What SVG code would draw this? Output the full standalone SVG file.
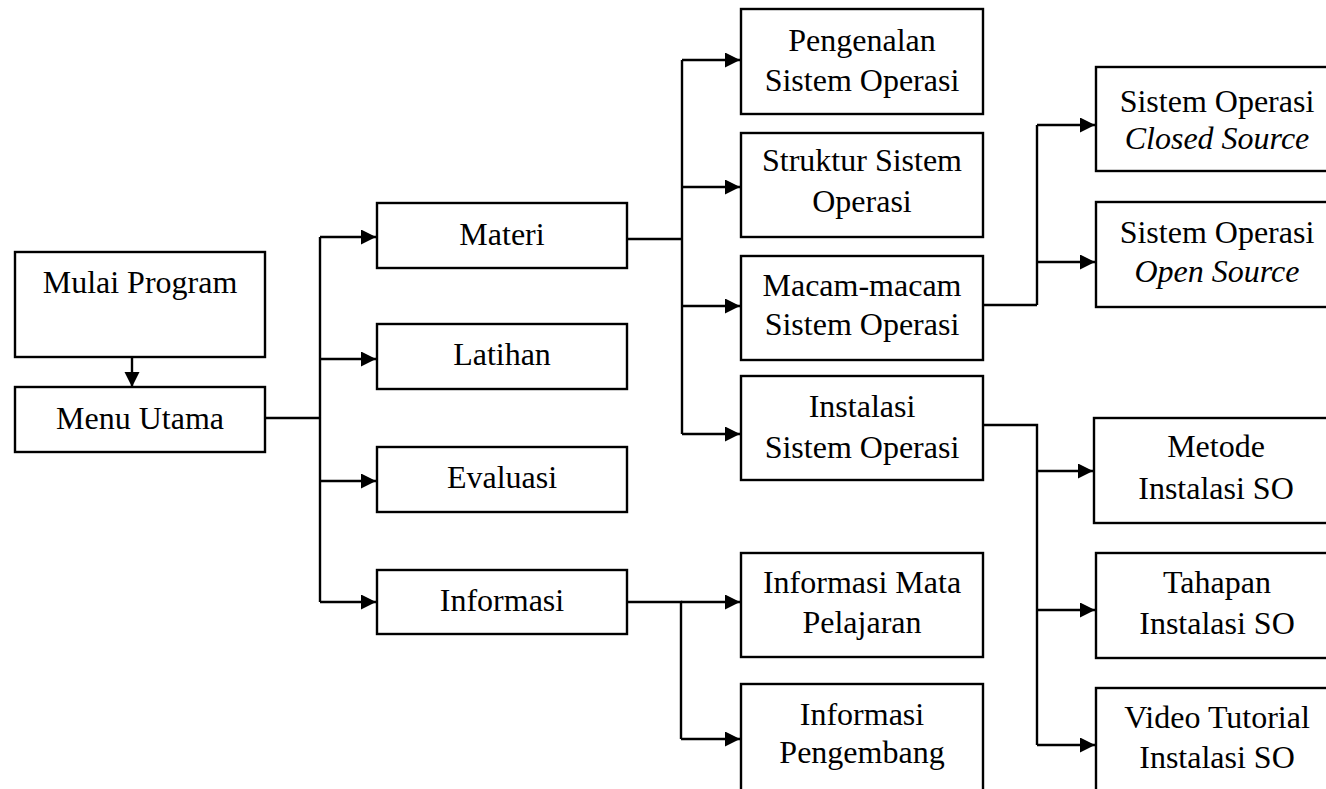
<svg xmlns="http://www.w3.org/2000/svg" width="1326" height="789" viewBox="0 0 1326 789">
<style>
.box{fill:#fff;stroke:#000;stroke-width:2.4}
.t{font-family:"Liberation Serif","Times New Roman",serif;font-size:32px;fill:#000;text-anchor:middle}
.i{font-style:italic}
.ln{fill:none;stroke:#000;stroke-width:2.4}
.ar{fill:none;stroke:#000;stroke-width:2.4;marker-end:url(#ah)}
</style>
<defs>
<marker id="ah" markerUnits="userSpaceOnUse" markerWidth="16" markerHeight="16" refX="15" refY="7.5" orient="auto">
<path d="M0,0 L15,7.5 L0,15 z" fill="#000"/>
</marker>
</defs>
<rect width="1326" height="789" fill="#fff"/>
<g id="connectors">
<path class="ar" d="M132,357 V387"/>
<path class="ln" d="M265,418 H320 M320,237 V602"/>
<path class="ar" d="M320,237 H376"/>
<path class="ar" d="M320,359 H376"/>
<path class="ar" d="M320,481 H376"/>
<path class="ar" d="M320,602 H376"/>
<path class="ln" d="M627,239 H682 M682,60 V434"/>
<path class="ar" d="M682,60 H740"/>
<path class="ar" d="M682,187 H740"/>
<path class="ar" d="M682,306 H740"/>
<path class="ar" d="M682,434 H740"/>
<path class="ln" d="M983,305 H1037 M1037,125 V305"/>
<path class="ar" d="M1037,125 H1095"/>
<path class="ar" d="M1037,262 H1095"/>
<path class="ln" d="M983,425 H1037 V745"/>
<path class="ar" d="M1037,471 H1093"/>
<path class="ar" d="M1037,610 H1095"/>
<path class="ar" d="M1037,745 H1095"/>
<path class="ln" d="M627,602 H681 V739"/>
<path class="ar" d="M681,602 H740"/>
<path class="ar" d="M681,739 H740"/>
</g>
<g id="mulai"><rect class="box" x="15" y="252" width="250" height="105"/><text class="t" x="140" y="293">Mulai Program</text></g>
<g id="menu"><rect class="box" x="15" y="387" width="250" height="65"/><text class="t" x="140" y="429">Menu Utama</text></g>
<g id="materi"><rect class="box" x="377" y="203" width="250" height="65"/><text class="t" x="502" y="245">Materi</text></g>
<g id="latihan"><rect class="box" x="377" y="324" width="250" height="65"/><text class="t" x="502" y="365">Latihan</text></g>
<g id="evaluasi"><rect class="box" x="377" y="447" width="250" height="65"/><text class="t" x="502" y="488">Evaluasi</text></g>
<g id="informasi"><rect class="box" x="377" y="570" width="250" height="64"/><text class="t" x="502" y="611">Informasi</text></g>
<g id="pengenalan"><rect class="box" x="741" y="9" width="242" height="105"/><text class="t" x="862" y="51">Pengenalan</text><text class="t" x="862" y="91">Sistem Operasi</text></g>
<g id="struktur"><rect class="box" x="741" y="133" width="242" height="104"/><text class="t" x="862" y="171">Struktur Sistem</text><text class="t" x="862" y="212">Operasi</text></g>
<g id="macam"><rect class="box" x="741" y="256" width="242" height="104"/><text class="t" x="862" y="296">Macam-macam</text><text class="t" x="862" y="335">Sistem Operasi</text></g>
<g id="instalasi"><rect class="box" x="741" y="376" width="242" height="104"/><text class="t" x="862" y="417">Instalasi</text><text class="t" x="862" y="458">Sistem Operasi</text></g>
<g id="infomata"><rect class="box" x="741" y="553" width="242" height="104"/><text class="t" x="862" y="593">Informasi Mata</text><text class="t" x="862" y="633">Pelajaran</text></g>
<g id="pengembang"><rect class="box" x="741" y="684" width="242" height="120"/><text class="t" x="862" y="725">Informasi</text><text class="t" x="862" y="763">Pengembang</text></g>
<g id="closed"><rect class="box" x="1096" y="67" width="250" height="104"/><text class="t" x="1217" y="112">Sistem Operasi</text><text class="t i" x="1217" y="149">Closed Source</text></g>
<g id="open"><rect class="box" x="1096" y="202" width="250" height="105"/><text class="t" x="1217" y="243">Sistem Operasi</text><text class="t i" x="1217" y="282">Open Source</text></g>
<g id="metode"><rect class="box" x="1094" y="418" width="250" height="105"/><text class="t" x="1216" y="457">Metode</text><text class="t" x="1216" y="499">Instalasi SO</text></g>
<g id="tahapan"><rect class="box" x="1096" y="553" width="250" height="105"/><text class="t" x="1217" y="593">Tahapan</text><text class="t" x="1217" y="634">Instalasi SO</text></g>
<g id="video"><rect class="box" x="1096" y="688" width="250" height="120"/><text class="t" x="1217" y="728">Video Tutorial</text><text class="t" x="1217" y="768">Instalasi SO</text></g>
</svg>
